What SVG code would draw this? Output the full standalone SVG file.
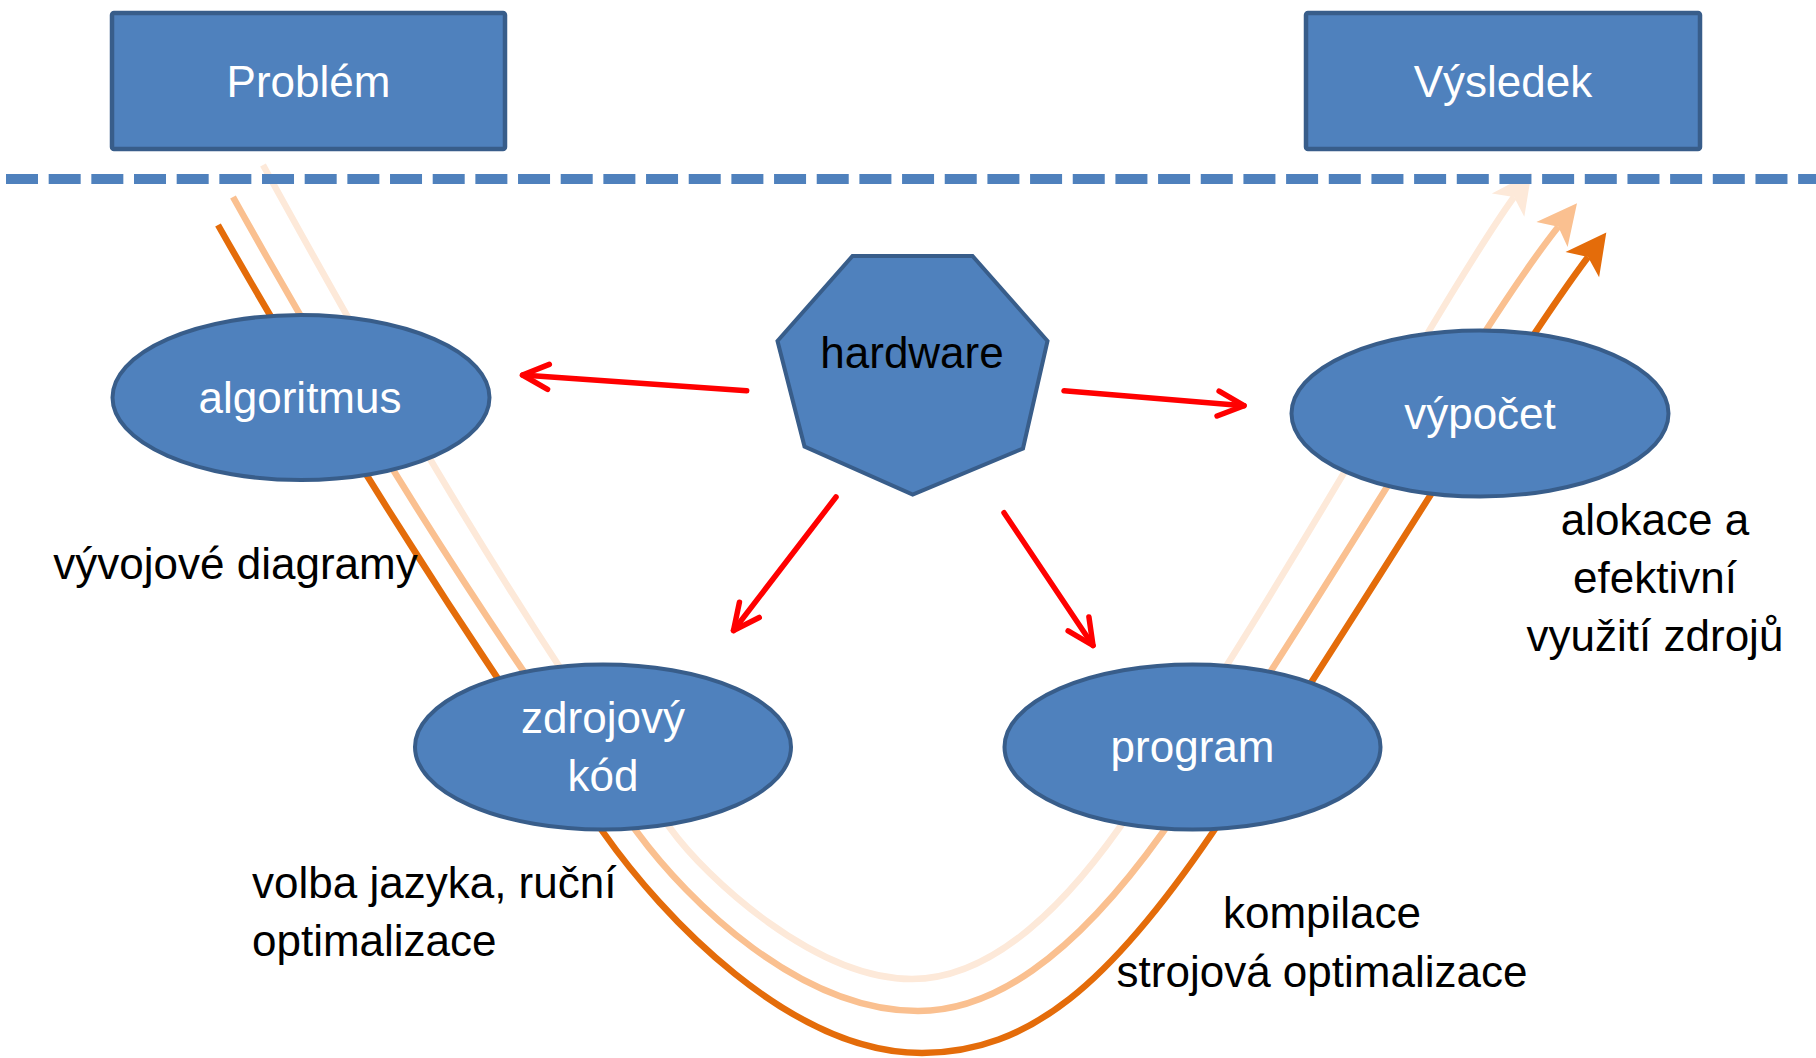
<svg xmlns="http://www.w3.org/2000/svg" width="1816" height="1058" viewBox="0 0 1816 1058">
<style>
  text { font-family: 'Liberation Sans', Arial, sans-serif; font-size: 44px; }
  .node { fill: #4F81BD; stroke: #385D8A; stroke-width: 4; }
  .box { fill: #4F81BD; stroke: #385D8A; stroke-width: 4.5; }
  .wt { fill: #FFFFFF; text-anchor: middle; }
  .bt { fill: #000000; text-anchor: middle; }
  .lbl { fill: #000000; }
  .flow { fill: none; stroke-width: 6.5; }
  .dark { stroke: #E46C0A; }
  .med { stroke: #FAC090; }
  .light { stroke: #FDE9D9; }
  .red { fill: none; stroke: #FF0000; stroke-width: 5.5; stroke-linecap: round; }
</style>
<defs>
  <marker id="redHead" markerUnits="userSpaceOnUse" markerWidth="40" markerHeight="40" viewBox="-32 -20 40 40" refX="0" refY="0" orient="auto" overflow="visible">
    <path d="M -26,-12.5 L 0,0 L -26,12.5" fill="none" stroke="#FF0000" stroke-width="5.5" stroke-linecap="round" stroke-linejoin="round"/>
  </marker>
</defs>
<rect x="0" y="0" width="1816" height="1058" fill="#FFFFFF"/>

<g id="connectors">
  <g id="flow-curves">
    <path class="flow light" d="M 263,165 C 384,385 511.6,608 670,828 C 706,878 815,979 912,979 C 970,979 1038.6,942 1120,827 C 1261.6,627 1442,297 1514,197"/>
    <polygon fill="#FDE9D9" points="1531.5,172.7 1491.9,193.4 1514,197 1524.3,216.8"/>
    <path class="flow med" d="M 233,197 C 350,407 482,622 637,832 C 688.5,902 800,1011 918,1011 C 990,1011 1070,962 1163,832 C 1305,632 1478.3,326.7 1558.3,226.7"/>
    <polygon fill="#FAC090" points="1577,203.3 1536.4,222 1558.3,226.7 1567.6,247"/>
    <path class="flow dark" d="M 218,225 C 331.6,425 462,632 603,832 C 662,916 790,1053 922,1053 C 1030,1053 1111,982 1213,832 C 1349,632 1505.5,367 1588,257"/>
    <polygon fill="#E46C0A" points="1606.3,232.6 1565.5,252 1588,257 1599.1,277.2"/>
  </g>
  <g id="hardware-arrows">
    <line class="red" x1="746.7" y1="390.7" x2="522.5" y2="375" marker-end="url(#redHead)"/>
    <line class="red" x1="1064" y1="390.7" x2="1244" y2="405.7" marker-end="url(#redHead)"/>
    <line class="red" x1="836" y1="497" x2="733.5" y2="630.5" marker-end="url(#redHead)"/>
    <line class="red" x1="1004" y1="512.7" x2="1093" y2="645.5" marker-end="url(#redHead)"/>
  </g>
</g>

<line id="separator" x1="6" y1="179" x2="1816" y2="179" stroke="#4F81BD" stroke-width="10" stroke-dasharray="32 10.67"/>

<g id="problem">
  <rect class="box" x="112" y="13" width="393" height="136" rx="2"/>
  <text class="wt" x="308.5" y="97">Problém</text>
</g>
<g id="vysledek">
  <rect class="box" x="1306" y="13" width="394" height="136" rx="2"/>
  <text class="wt" x="1503" y="97">Výsledek</text>
</g>
<g id="hardware">
  <polygon class="node" points="852.5,256 972.5,256 1047.5,341 1023,448.5 912.7,494.5 804.5,446.5 777.5,341"/>
  <text class="bt" x="912" y="368">hardware</text>
</g>
<g id="algoritmus">
  <ellipse class="node" cx="301" cy="397.5" rx="188.5" ry="82.5"/>
  <text class="wt" x="300" y="413">algoritmus</text>
</g>
<g id="zdrojovy-kod">
  <ellipse class="node" cx="603" cy="747" rx="188" ry="82.5"/>
  <text class="wt" x="603" y="733">zdrojový</text>
  <text class="wt" x="603" y="791">kód</text>
</g>
<g id="program">
  <ellipse class="node" cx="1192.5" cy="747" rx="188" ry="82.5"/>
  <text class="wt" x="1192.5" y="762">program</text>
</g>
<g id="vypocet">
  <ellipse class="node" cx="1480" cy="413.5" rx="188.5" ry="83"/>
  <text class="wt" x="1480" y="428.5">výpočet</text>
</g>

<g id="labels">
  <text class="bt" x="235.5" y="579">vývojové diagramy</text>
  <text class="lbl" x="252" y="898">volba jazyka, ruční</text>
  <text class="lbl" x="252" y="955.5">optimalizace</text>
  <text class="bt" x="1322" y="928.3">kompilace</text>
  <text class="bt" x="1322" y="986.7">strojová optimalizace</text>
  <text class="bt" x="1655" y="535">alokace a</text>
  <text class="bt" x="1655" y="593">efektivní</text>
  <text class="bt" x="1655" y="650.5">využití zdrojů</text>
</g>
</svg>
